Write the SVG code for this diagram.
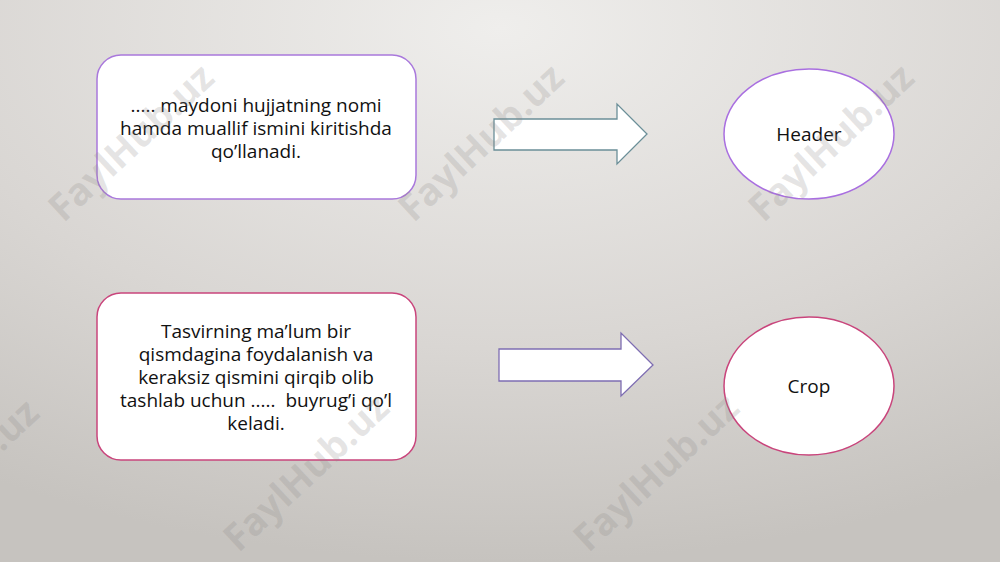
<svg xmlns="http://www.w3.org/2000/svg" width="1000" height="562" viewBox="0 0 1000 562">
<defs>
<radialGradient id="bg" cx="0.5" cy="0.05" r="0.95" gradientUnits="objectBoundingBox">
<stop offset="0" stop-color="#efeeec"/>
<stop offset="0.6" stop-color="#d9d6d3"/>
<stop offset="1" stop-color="#c6c3bf"/>
</radialGradient>
<style>
.box{fill:#ffffff;stroke-width:1.5}
.t{font-family:"Open Sans","Noto Sans","DejaVu Sans",sans-serif;font-size:19px;fill:#111;text-anchor:middle}
.wm{font-family:"Open Sans","DejaVu Sans",sans-serif;font-weight:bold;font-size:38px;fill:#8a8785;fill-opacity:0.22;text-anchor:middle}
.arr{fill:#ffffff;stroke-width:1.3}
</style>
</defs>
<rect width="1000" height="562" fill="url(#bg)"/>
<g id="node-q1">
<rect class="box" x="97" y="55" width="319" height="144" rx="24" stroke="#a978dc"/>
<text class="t" x="256" y="112">..... maydoni hujjatning nomi</text>
<text class="t" x="256" y="135">hamda muallif ismini kiritishda</text>
<text class="t" x="256" y="158">qo’llanadi.</text>
</g>
<g id="node-q2">
<rect class="box" x="97" y="293" width="319" height="167" rx="24" stroke="#c9457c"/>
<text class="t" x="256" y="338">Tasvirning ma’lum bir</text>
<text class="t" x="256" y="361">qismdagina foydalanish va</text>
<text class="t" x="256" y="384">keraksiz qismini qirqib olib</text>
<text class="t" x="256" y="407" xml:space="preserve">tashlab uchun .....  buyrug’i qo’l</text>
<text class="t" x="256" y="430">keladi.</text>
</g>
<g id="node-header">
<ellipse class="box" cx="809" cy="134" rx="85" ry="65" stroke="#a96fe0"/>
<text class="t" x="809" y="141">Header</text>
</g>
<g id="node-crop">
<ellipse class="box" cx="809" cy="386" rx="85" ry="69" stroke="#c9457c"/>
<text class="t" x="809" y="393">Crop</text>
</g>
<g id="connectors">
<polygon class="arr" points="494,119 617,119 617,104 647,134 617,164 617,150 494,150" stroke="#6b8f98"/>
<polygon class="arr" points="499,349 621,349 621,333 653,365 621,396 621,381 499,381" stroke="#7e6db2"/>
</g>
<g id="watermarks">
<text class="wm" transform="translate(140,152) rotate(-43)">FaylHub.uz</text>
<text class="wm" transform="translate(490,152) rotate(-43)">FaylHub.uz</text>
<text class="wm" transform="translate(840,152) rotate(-43)">FaylHub.uz</text>
<text class="wm" transform="translate(-35,487) rotate(-43)">FaylHub.uz</text>
<text class="wm" transform="translate(315,482) rotate(-43)">FaylHub.uz</text>
<text class="wm" transform="translate(665,482) rotate(-43)">FaylHub.uz</text>
</g>
</svg>
